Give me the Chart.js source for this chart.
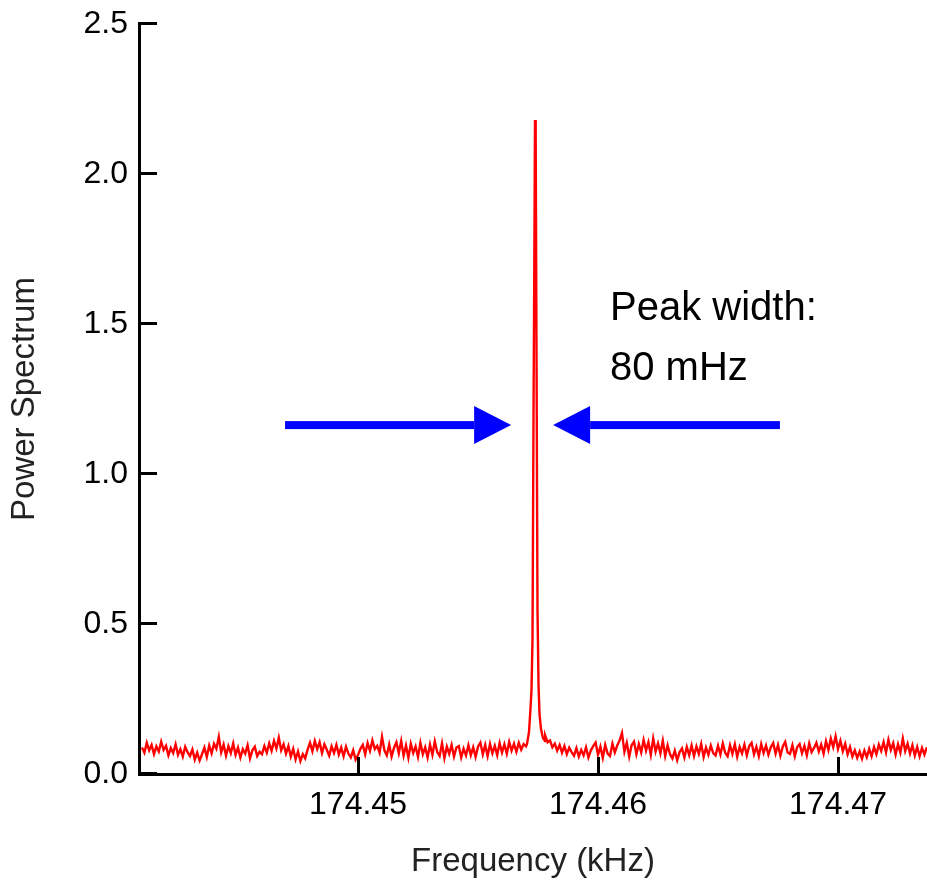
<!DOCTYPE html>
<html>
<head>
<meta charset="utf-8">
<script src="https://cdn.jsdelivr.net/npm/chart.js@4.4.0/dist/chart.umd.min.js"></script>
<style>
  html, body { margin: 0; padding: 0; background: #fff; }
  #wrap { width: 927px; height: 888px; }
</style>
</head>
<body>
<div id="wrap"><canvas id="spectrum" width="927" height="888"></canvas></div>
<script>
// frequency grid of the noise floor (kHz)
const freqStart = 174.4410;
const freqStep = 0.0001;

// power, one value per grid step
const noisePower = [
  0.088,0.071,0.104,0.079,0.097,0.066,0.092,0.075,0.108,0.080,
  0.094,0.062,0.087,0.070,0.099,0.064,0.083,0.058,0.091,0.072,
  0.060,0.082,0.048,0.071,0.045,0.066,0.088,0.057,0.095,0.069,
  0.101,0.084,0.124,0.072,0.098,0.061,0.093,0.070,0.102,0.064,
  0.088,0.055,0.083,0.068,0.096,0.052,0.079,0.091,0.060,0.074,
  0.066,0.093,0.071,0.102,0.077,0.110,0.085,0.121,0.079,0.099,
  0.068,0.093,0.058,0.084,0.049,0.075,0.043,0.066,0.052,0.081,
  0.104,0.076,0.110,0.083,0.106,0.070,0.099,0.081,0.061,0.092,
  0.070,0.097,0.065,0.088,0.059,0.091,0.068,0.055,0.079,0.048,
  0.063,0.084,0.097,0.066,0.103,0.077,0.112,0.083,0.094,0.071,
  0.124,0.079,0.062,0.098,0.058,0.087,0.106,0.069,0.110,0.061,
  0.095,0.054,0.101,0.070,0.092,0.057,0.104,0.066,0.089,0.055,
  0.098,0.064,0.109,0.073,0.060,0.102,0.053,0.091,0.067,0.097,
  0.058,0.088,0.093,0.055,0.084,0.062,0.096,0.063,0.089,0.057,
  0.091,0.105,0.066,0.097,0.060,0.100,0.069,0.094,0.063,0.103,
  0.072,0.099,0.068,0.107,0.078,0.101,0.074,0.104,0.081,0.100,
  0.092,0.104,0.130,0.160,0.200,0.260,0.180,0.140,0.128,0.106,
  0.112,0.089,0.101,0.078,0.097,0.071,0.093,0.066,0.088,0.073,
  0.061,0.086,0.058,0.080,0.062,0.089,0.055,0.078,0.093,0.105,
  0.064,0.091,0.054,0.097,0.068,0.060,0.101,0.072,0.095,0.112,
  0.137,0.074,0.104,0.058,0.096,0.108,0.066,0.100,0.072,0.113,
  0.078,0.106,0.064,0.118,0.075,0.102,0.069,0.111,0.060,0.096,
  0.066,0.052,0.078,0.046,0.073,0.085,0.055,0.090,0.063,0.095,
  0.060,0.092,0.067,0.100,0.057,0.088,0.064,0.095,0.070,0.062,
  0.094,0.065,0.102,0.071,0.059,0.096,0.067,0.099,0.058,0.090,
  0.069,0.098,0.062,0.093,0.104,0.066,0.091,0.060,0.100,0.070,
  0.095,0.064,0.089,0.103,0.068,0.097,0.061,0.092,0.107,0.072,
  0.067,0.096,0.059,0.090,0.100,0.069,0.094,0.062,0.102,0.073,
  0.087,0.104,0.075,0.098,0.068,0.109,0.080,0.118,0.090,0.126,
  0.083,0.111,0.076,0.101,0.066,0.090,0.058,0.079,0.054,0.075,
  0.051,0.078,0.056,0.084,0.059,0.090,0.066,0.098,0.077,0.106,
  0.072,0.114,0.080,0.103,0.065,0.099,0.071,0.118,0.076,0.101,
  0.068,0.096,0.062,0.090,0.059,0.087,0.065,0.089
];

// the resonance itself, finer sampled
const peakFreq = [
  174.457042, 174.457125, 174.457188, 174.457229, 174.457271, 174.457313,
  174.457346, 174.457375, 174.457404, 174.457438, 174.457479, 174.457521,
  174.457563, 174.457625, 174.457708, 174.457792
];
const peakPower = [
  0.10, 0.14, 0.22, 0.28, 0.45, 1.20,
  1.70, 2.18, 2.12, 1.40, 0.55, 0.30,
  0.20, 0.15, 0.12, 0.11
];

const xRange = [174.440875, 174.473708];
const yRange = [0, 2.5];
const xTicks = [174.45, 174.46, 174.47];
const yTicks = [0, 0.5, 1.0, 1.5, 2.0, 2.5];

// annotation: arrows marking the width, in data units
const arrowLevel = 1.163;
const arrowLeft = [174.44696, 174.45638];
const arrowRight = [174.46758, 174.45813];
const noteLines = ['Peak width:', '80 mHz'];
const noteFreq = 174.4605;
const notePower = [1.513, 1.313];

const FONT = '"Liberation Sans", Arial, sans-serif';
Chart.defaults.font.family = FONT;

const points = [];
noisePower.forEach((p, i) => {
  const f = freqStart + i * freqStep;
  if (f < peakFreq[0] || f > peakFreq[peakFreq.length - 1]) points.push({ x: f, y: p });
});
peakFreq.forEach((f, i) => points.push({ x: f, y: peakPower[i] }));
points.sort((a, b) => a.x - b.x);

const overlay = {
  id: 'overlay',
  afterDraw(chart) {
    const ctx = chart.ctx;
    const xs = chart.scales.x, ys = chart.scales.y;
    const area = chart.chartArea;
    ctx.save();

    // inward tick marks
    ctx.strokeStyle = '#000';
    ctx.lineWidth = 3;
    yTicks.forEach(v => {
      const py = Math.round(ys.getPixelForValue(v)) - 0.5;
      ctx.beginPath();
      ctx.moveTo(area.left - 1, py);
      ctx.lineTo(area.left + 18, py);
      ctx.stroke();
    });
    xTicks.forEach(v => {
      const px = Math.round(xs.getPixelForValue(v)) + 0.5;
      ctx.beginPath();
      ctx.moveTo(px, area.bottom + 1);
      ctx.lineTo(px, area.bottom - 17);
      ctx.stroke();
    });

    // arrows
    const y = ys.getPixelForValue(arrowLevel);
    ctx.fillStyle = '#0000ff';
    [arrowLeft, arrowRight].forEach(a => {
      const x0 = xs.getPixelForValue(a[0]);
      const x1 = xs.getPixelForValue(a[1]);
      const dir = Math.sign(x1 - x0);
      const xb = x1 - dir * 37;
      ctx.fillRect(Math.min(x0, xb), y - 4, Math.abs(xb - x0), 8);
      ctx.beginPath();
      ctx.moveTo(x1, y);
      ctx.lineTo(xb, y - 19);
      ctx.lineTo(xb, y + 19);
      ctx.closePath();
      ctx.fill();
    });

    // note
    ctx.fillStyle = '#000';
    ctx.font = '40px ' + FONT;
    ctx.textAlign = 'left';
    ctx.textBaseline = 'alphabetic';
    noteLines.forEach((t, i) => {
      ctx.fillText(t, xs.getPixelForValue(noteFreq), ys.getPixelForValue(notePower[i]));
    });
    ctx.restore();
  }
};

new Chart(document.getElementById('spectrum'), {
  type: 'line',
  data: {
    datasets: [{
      data: points,
      borderColor: '#ff0000',
      borderWidth: 2.4,
      pointRadius: 0,
      tension: 0,
      fill: false
    }]
  },
  options: {
    responsive: false,
    animation: false,
    layout: { padding: { top: 24, right: 0, bottom: 0, left: 0 } },
    plugins: { legend: { display: false }, tooltip: { enabled: false } },
    scales: {
      x: {
        type: 'linear',
        bounds: 'data',
        min: xRange[0],
        max: xRange[1],
        grid: { display: false, drawTicks: false },
        border: { display: true, color: '#000', width: 3 },
        afterBuildTicks: s => { s.ticks = xTicks.map(v => ({ value: v })); },
        afterFit: s => { s.height = 114; s.paddingLeft = 0; s.paddingRight = 0; },
        ticks: {
          padding: 12,
          color: '#000',
          maxRotation: 0,
          autoSkip: false,
          font: { size: 32 },
          callback: v => v.toFixed(2)
        },
        title: {
          display: true,
          text: 'Frequency (kHz)',
          color: '#222',
          font: { size: 33 },
          padding: { top: 0, bottom: 6 }
        }
      },
      y: {
        type: 'linear',
        bounds: 'data',
        min: yRange[0],
        max: yRange[1],
        grid: { display: false, drawTicks: false },
        border: { display: true, color: '#000', width: 3 },
        afterBuildTicks: s => { s.ticks = yTicks.map(v => ({ value: v })); },
        afterFit: s => { s.width = 139; s.paddingTop = 0; s.paddingBottom = 0; },
        ticks: {
          padding: 11,
          color: '#000',
          font: { size: 32 },
          callback: v => v.toFixed(1)
        },
        title: {
          display: true,
          text: 'Power Spectrum',
          color: '#222',
          font: { size: 33 },
          padding: { top: 5, bottom: 0 }
        }
      }
    }
  },
  plugins: [overlay]
});
</script>
</body>
</html>
